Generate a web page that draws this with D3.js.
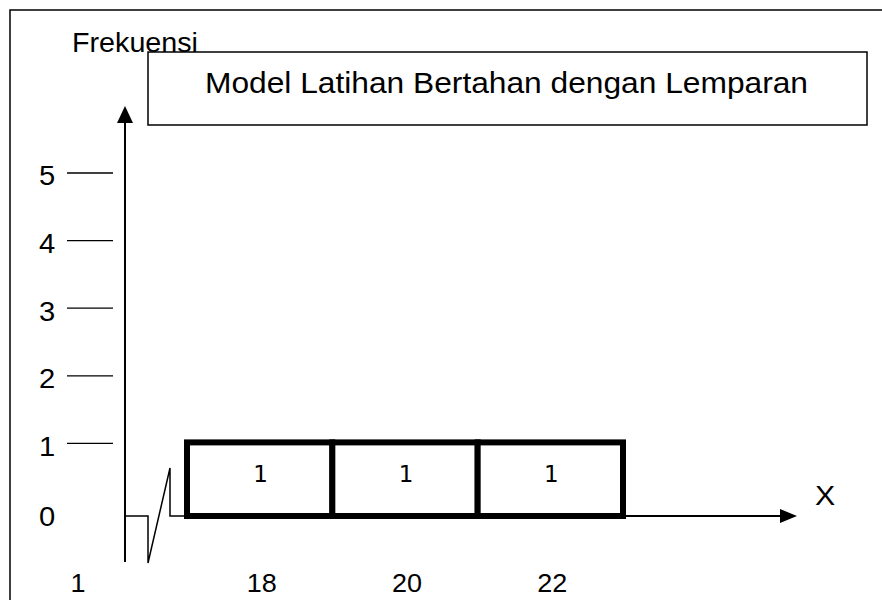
<!DOCTYPE html>
<html>
<head>
<meta charset="utf-8">
<script src="https://cdn.jsdelivr.net/npm/d3@7"></script>
<style>
  body { margin: 0; background: #fff; }
  text { font-family: "Liberation Sans", Arial, sans-serif; fill: #000; }
</style>
</head>
<body>
<svg id="chart" width="882" height="600"></svg>
<script>
// data
const categories = ["18", "20", "22"];
const frequencies = [1, 1, 1];
const yTicks = [1, 2, 3, 4, 5];
const firstLabel = "1";
const titleText = "Model Latihan Bertahan dengan Lemparan";
const yTitle = "Frekuensi";
const xTitle = "X";

const svg = d3.select("#chart");

// outer frame
svg.append("rect")
    .attr("x", 10).attr("y", 10)
    .attr("width", 900).attr("height", 620)
    .attr("fill", "none").attr("stroke", "#000").attr("stroke-width", 1.5);

// scales
const axisX = 125;
const baseY = 516;
const xScale = d3.scaleBand().domain(categories).range([187, 623]).padding(0);
const yScale = d3.scaleLinear().domain([0, 5]).range([511, 173]);

// y axis with arrow
svg.append("line")
    .attr("x1", axisX).attr("x2", axisX)
    .attr("y1", 120).attr("y2", 562)
    .attr("stroke", "#000").attr("stroke-width", 2);
svg.append("path")
    .attr("d", `M${axisX},106 L${axisX - 8},123 L${axisX + 8},123 Z`)
    .attr("fill", "#000");

// y ticks: short lines left of axis
svg.selectAll(".tick-line")
    .data(yTicks)
    .join("line")
    .attr("class", "tick-line")
    .attr("x1", 67).attr("x2", 113)
    .attr("y1", d => yScale(d)).attr("y2", d => yScale(d))
    .attr("stroke", "#000").attr("stroke-width", 1.3);

// labels are a touch wider than Arial in the source, stretch them a bit
function stretched(sel, x, y) {
    return sel.attr("transform", `translate(${x},${y}) scale(1.08,1)`);
}

svg.selectAll(".tick-label")
    .data([0].concat(yTicks))
    .join("text")
    .attr("class", "tick-label")
    .attr("transform", d => `translate(47,${d === 0 ? baseY + 1 : yScale(d) + 3}) scale(1.08,1)`)
    .attr("dy", "0.35em")
    .attr("text-anchor", "middle")
    .style("font-size", "27px")
    .text(d => d);

// axis break zigzag + x axis
const brk = [
    [axisX, baseY], [148, baseY], [148, 563], [170, 468], [170, baseY], [xScale.range()[0], baseY]
];
svg.append("path")
    .attr("d", d3.line()(brk))
    .attr("fill", "none").attr("stroke", "#000").attr("stroke-width", 1.5);

svg.append("line")
    .attr("x1", xScale.range()[1]).attr("x2", 782)
    .attr("y1", baseY).attr("y2", baseY)
    .attr("stroke", "#000").attr("stroke-width", 2);
svg.append("path")
    .attr("d", `M797,${baseY} L780,${baseY - 7} L780,${baseY + 7} Z`)
    .attr("fill", "#000");

// bars
svg.selectAll(".bar")
    .data(frequencies)
    .join("rect")
    .attr("class", "bar")
    .attr("x", (d, i) => xScale(categories[i]))
    .attr("y", d => yScale(d) - 1)
    .attr("width", xScale.bandwidth())
    .attr("height", d => baseY - yScale(d) + 1)
    .attr("fill", "#fff")
    .attr("stroke", "#000").attr("stroke-width", 6);

svg.selectAll(".bar-label")
    .data(frequencies)
    .join("text")
    .attr("class", "bar-label")
    .attr("x", (d, i) => xScale(categories[i]) + xScale.bandwidth() / 2 + 1)
    .attr("y", d => (yScale(d) + baseY) / 2 - 6)
    .attr("dy", "0.35em")
    .attr("text-anchor", "middle")
    .style("font-family", "DejaVu Sans, sans-serif")
    .style("font-size", "23px")
    .text(d => d);

// x category labels
svg.selectAll(".x-label")
    .data(categories)
    .join("text")
    .attr("class", "x-label")
    .attr("transform", d => `translate(${xScale(d) + xScale.bandwidth() / 2 + 2},592) scale(1.08,1)`)
    .attr("text-anchor", "middle")
    .style("font-size", "25px")
    .text(d => d);

stretched(svg.append("text"), 78, 592)
    .attr("text-anchor", "middle")
    .style("font-size", "25px")
    .text(firstLabel);

// axis titles
svg.append("text")
    .attr("x", 72).attr("y", 52)
    .style("font-size", "27px")
    .attr("textLength", 126).attr("lengthAdjust", "spacingAndGlyphs")
    .text(yTitle);

stretched(svg.append("text"), 825, 505)
    .attr("text-anchor", "middle")
    .style("font-size", "28px")
    .text(xTitle);

// title box
svg.append("rect")
    .attr("x", 148).attr("y", 52)
    .attr("width", 719).attr("height", 73)
    .attr("fill", "#fff").attr("stroke", "#000").attr("stroke-width", 1.5);

svg.append("text")
    .attr("x", 205).attr("y", 93)
    .style("font-size", "29px")
    .attr("textLength", 603).attr("lengthAdjust", "spacingAndGlyphs")
    .text(titleText);
</script>
</body>
</html>
